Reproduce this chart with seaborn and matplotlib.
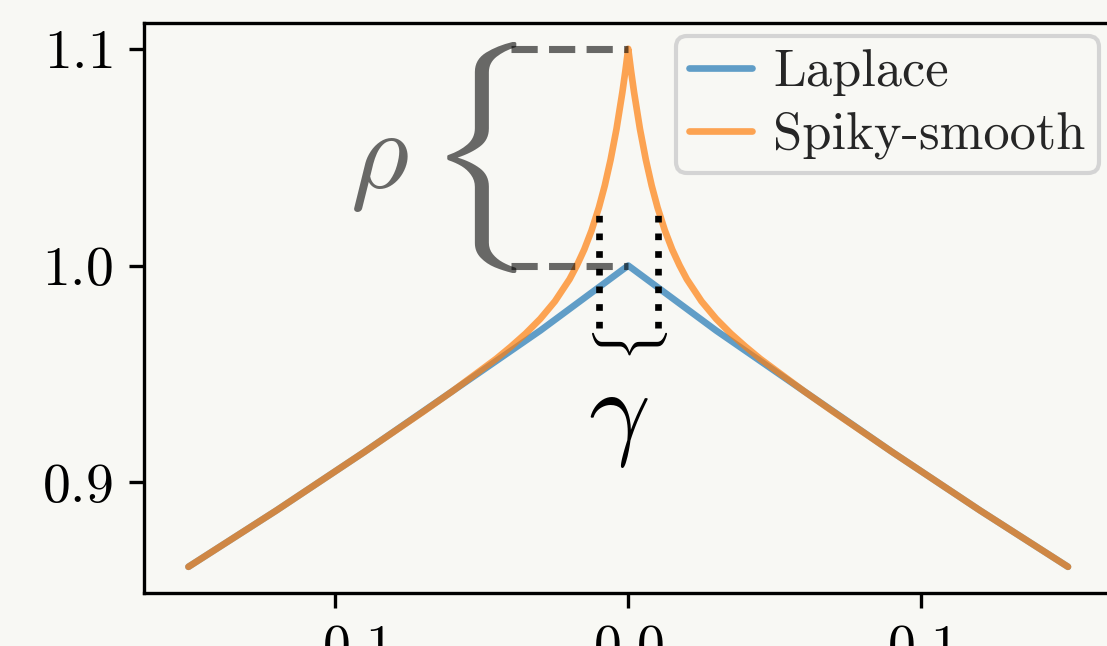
import numpy as np
import pandas as pd
import matplotlib.pyplot as plt
import seaborn as sns

# === DATA ===
laplace_x = [-0.15, -0.12, -0.09, -0.06, -0.03, 0.0, 0.03, 0.06, 0.09, 0.12, 0.15]
laplace_y = [0.861, 0.887, 0.914, 0.942, 0.970, 1.000, 0.970, 0.942, 0.914, 0.887, 0.861]

spiky_x = [-0.15, -0.12, -0.09, -0.07, -0.06, -0.05, -0.045, -0.04, -0.035, -0.03,
           -0.025, -0.02, -0.0175, -0.015, -0.0125, -0.01, -0.008, -0.006, -0.004,
           -0.002, -0.001, 0.0, 0.001, 0.002, 0.004, 0.006, 0.008, 0.01, 0.0125,
           0.015, 0.0175, 0.02, 0.025, 0.03, 0.035, 0.04, 0.045, 0.05, 0.06, 0.07,
           0.09, 0.12, 0.15]
spiky_y = [0.861, 0.887, 0.914, 0.9325, 0.942, 0.952, 0.957, 0.9626, 0.9686, 0.9754,
           0.9835, 0.9937, 1.0001, 1.0074, 1.0162, 1.0268, 1.0369, 1.0489, 1.0630,
           1.0799, 1.0895, 1.100, 1.0895, 1.0799, 1.0630, 1.0489, 1.0369, 1.0268, 1.0162,
           1.0074, 1.0001, 0.9937, 0.9835, 0.9754, 0.9686, 0.9626, 0.957, 0.952, 0.942, 0.9325,
           0.914, 0.887, 0.861]

series_names = ["Laplace", "Spiky-smooth"]
x_ticks = [-0.1, 0.0, 0.1]
y_ticks = [0.9, 1.0, 1.1]

# annotation anchors
PEAK_LOW = 1.0
PEAK_HIGH = 1.1
DASH_START = -0.04
GAMMA = 0.01
DOT_LOW, DOT_HIGH = 0.971, 1.025

BG = "#f8f8f4"
GRAY_ALPHA = 0.58

df = pd.concat([
    pd.DataFrame({"x": laplace_x, "y": laplace_y, "kernel": series_names[0]}),
    pd.DataFrame({"x": spiky_x, "y": spiky_y, "kernel": series_names[1]}),
], ignore_index=True)

# === STYLE ===
sns.set_style("ticks")
plt.rcParams.update({
    "font.family": ["cmr10", "DejaVu Serif"],
    "mathtext.fontset": "cm",
    "axes.formatter.use_mathtext": True,
    "axes.unicode_minus": True,
    "figure.facecolor": BG,
    "axes.facecolor": BG,
    "axes.edgecolor": "black",
    "axes.linewidth": 0.8,
    "xtick.major.size": 3.5,
    "ytick.major.size": 3.5,
    "xtick.major.width": 0.8,
    "ytick.major.width": 0.8,
    "xtick.color": "black",
    "ytick.color": "black",
})

fig = plt.figure(figsize=(1107 / 300, 646 / 300), dpi=300)
ax = fig.add_axes([0.1305, 0.0825, 0.874, 0.882])

sns.lineplot(data=df, x="x", y="y", hue="kernel", sort=False, ax=ax,
             palette={"Laplace": "tab:blue", "Spiky-smooth": "tab:orange"},
             alpha=0.7, linewidth=1.6)

# === ANNOTATIONS ===
for yv in (PEAK_HIGH, PEAK_LOW):
    ax.plot([DASH_START, 0.0], [yv, yv], "--", color="k", alpha=GRAY_ALPHA, lw=1.7)
for xv in (-GAMMA, GAMMA):
    ax.plot([xv, xv], [DOT_LOW, DOT_HIGH], ":", color="k", lw=1.6)

ax.text(-0.0535, 1.05, r"$\{$", fontsize=46, color="k", alpha=GRAY_ALPHA,
        ha="center", va="center")
ax.text(-0.0848, 1.047, r"$\rho$", fontsize=27, color="k", alpha=GRAY_ALPHA,
        ha="center", va="center")
ax.text(0.0, 0.966, r"$\}$", fontsize=15, color="k", rotation=-90,
        ha="center", va="center")
ax.text(-0.0034, 0.928, r"$\gamma$", fontsize=26, color="k", ha="center", va="center")

# === AXES ===
ax.set_xticks(x_ticks)
ax.set_yticks(y_ticks)
ax.tick_params(labelsize=13.4, pad=4)
ax.set_xlabel("")
ax.set_ylabel("")
ax.spines["right"].set_visible(False)

leg = ax.legend(loc="upper right", fontsize=12.6, handlelength=1.2, handletextpad=0.4,
                borderpad=0.25, borderaxespad=0.25, labelspacing=0.3, framealpha=0.8,
                edgecolor="0.8")
for line in leg.get_lines():
    line.set_linewidth(1.6)

plt.savefig("out.png", dpi=300, facecolor=BG)
plt.close()
